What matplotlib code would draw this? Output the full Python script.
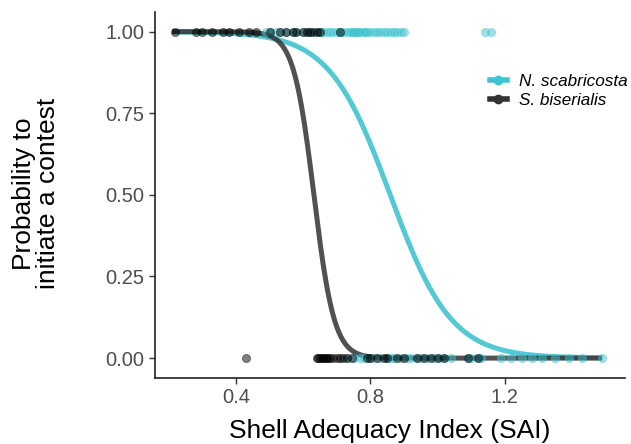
import numpy as np
import matplotlib
matplotlib.use("Agg")
import matplotlib.pyplot as plt
from matplotlib.lines import Line2D

plt.rcParams['font.family'] = ['Liberation Sans', 'DejaVu Sans']

# observed contests (x = SAI), split by outcome (1 = initiated, 0 = not)
nsc_x_1 = [0.49, 0.50, 0.52, 0.53, 0.55, 0.57, 0.58, 0.60, 0.61, 0.62, 0.64, 0.65,
           0.66, 0.67, 0.68, 0.69, 0.70, 0.71, 0.72, 0.73, 0.74, 0.745, 0.75, 0.755,
           0.76, 0.765, 0.77, 0.78, 0.785, 0.79, 0.80, 0.81, 0.82, 0.83, 0.84, 0.85,
           0.86, 0.87, 0.88, 0.89, 0.90, 1.14, 1.16]
nsc_x_0 = [0.73, 0.75, 0.77, 0.78, 0.80, 0.81, 0.83, 0.85, 0.86, 0.87, 0.89, 0.91,
           0.92, 0.94, 0.95, 0.97, 0.99, 1.00, 1.02, 1.04, 1.09, 1.10, 1.12, 1.13,
           1.19, 1.22, 1.25, 1.28, 1.31, 1.35, 1.39, 1.43, 1.49]
sbi_x_1 = [0.22, 0.28, 0.30, 0.33, 0.36, 0.38, 0.41, 0.44, 0.46, 0.50, 0.53, 0.55,
           0.57, 0.58, 0.60, 0.61, 0.62, 0.63, 0.64, 0.65, 0.71]
sbi_x_0 = [0.43, 0.64, 0.645, 0.65, 0.655, 0.66, 0.665, 0.67, 0.675, 0.68, 0.69,
           0.70, 0.71, 0.72, 0.73, 0.745, 0.79, 0.80, 0.82, 0.84, 0.85, 0.88, 0.90,
           0.94, 0.96, 0.98, 1.00, 1.02, 1.09, 1.12]

# fitted logistic curves: (midpoint, slope)
nsc_fit = (0.859, 11.0)
sbi_fit = (0.632, 33.0)
x_range = (0.21, 1.49)

cyan = '#3fc3d0'
dark = '#333333'

fig = plt.figure(figsize=(6.31, 4.44), dpi=100)
ax = fig.add_axes([0.2456, 0.1486, 0.745, 0.825])

xs = np.linspace(x_range[0], x_range[1], 300)
for (mid, k), col, a in [(nsc_fit, cyan, 0.9), (sbi_fit, dark, 0.85)]:
    ax.plot(xs, 1 / (1 + np.exp(k * (xs - mid))), color=col, lw=3.6, alpha=a,
            solid_capstyle='butt', zorder=2)

for xv, yv, col in [(nsc_x_1, 1, cyan), (nsc_x_0, 0, cyan),
                    (sbi_x_1, 1, 'black'), (sbi_x_0, 0, 'black')]:
    ax.scatter(xv, [yv] * len(xv), s=34, color=col, alpha=0.5, edgecolors=col,
               linewidths=0.6, zorder=3)

ax.set_xlim(0.159, 1.558)
ax.set_ylim(-0.061, 1.061)
ax.set_xticks([0.4, 0.8, 1.2])
ax.set_xticklabels(['0.4', '0.8', '1.2'])
ax.set_yticks([0, 0.25, 0.5, 0.75, 1.0])
ax.set_yticklabels(['0.00', '0.25', '0.50', '0.75', '1.00'])
ax.tick_params(labelsize=14.5, labelcolor='#4d4d4d', color='#333333', length=4, width=1)
for s in ['top', 'right']:
    ax.spines[s].set_visible(False)
for s in ['left', 'bottom']:
    ax.spines[s].set_linewidth(1.2)
    ax.spines[s].set_color('#222222')

ax.set_xlabel('Shell Adequacy Index (SAI)', fontsize=19, labelpad=8)
ax.set_ylabel('Probability to\ninitiate a contest', fontsize=19, linespacing=1.0)
ax.yaxis.set_label_coords(-0.202, 0.503)

handles = [Line2D([], [], color=cyan, lw=4, marker='o', markersize=6),
           Line2D([], [], color=dark, lw=4, marker='o', markersize=6)]
leg = ax.legend(handles, ['N. scabricosta', 'S. biserialis'], loc='upper left',
                bbox_to_anchor=(0.752, 0.869), bbox_transform=fig.transFigure,
                frameon=False, handlelength=1.0, handletextpad=0.7, labelspacing=0.25,
                prop={'size': 12.3, 'style': 'italic'})

fig.savefig('out.png', dpi=100)
